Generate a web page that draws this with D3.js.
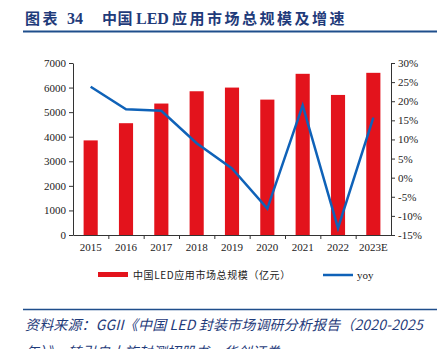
<!DOCTYPE html>
<html>
<head>
<meta charset="utf-8">
<script src="https://cdn.jsdelivr.net/npm/d3@7"></script>
<style>
  body { margin: 0; background: #fff; }
  svg { display: block; }
</style>
</head>
<body>
<script>
// data
var years = ["2015", "2016", "2017", "2018", "2019", "2020", "2021", "2022", "2023E"];
var market = [3850, 4550, 5350, 5850, 6000, 5510, 6560, 5700, 6600];   // 亿元
var yoy = [23.8, 17.9, 17.5, 9.0, 2.4, -8.1, 18.9, -13.2, 15.7];        // %
var leftTicks = [0, 1000, 2000, 3000, 4000, 5000, 6000, 7000];
var rightTicks = [-15, -10, -5, 0, 5, 10, 15, 20, 25, 30];

var width = 443, height = 349;
var plot = {left: 73, right: 391, top: 63, bottom: 235};
var cjk = "'Noto Sans CJK SC', sans-serif";
var serif = "'Liberation Serif', 'Times New Roman', serif";

var svg = d3.select("body").append("svg")
  .attr("width", width).attr("height", height);

// title and rules
var title = svg.append("text")
  .attr("y", 24)
  .attr("font-weight", "bold")
  .attr("font-size", 15)
  .attr("fill", "#1f3b7a");
title.append("tspan").attr("x", 25).attr("font-family", cjk).attr("letter-spacing", 2.5).text("图表");
title.append("tspan").attr("x", 67).attr("font-family", serif).attr("font-size", 16).text("34");
title.append("tspan").attr("x", 102).attr("font-family", cjk).attr("letter-spacing", 0.5).text("中国");
title.append("tspan").attr("x", 136).attr("font-family", serif).attr("font-size", 16).text("LED");
title.append("tspan").attr("x", 172).attr("font-family", cjk).attr("letter-spacing", 2.5).text("应用市场总规模及增速");

svg.append("line")
  .attr("x1", 23).attr("x2", 437).attr("y1", 31.5).attr("y2", 31.5)
  .attr("stroke", "#1f4e8c").attr("stroke-width", 2);

var x = d3.scaleBand().domain(years).range([plot.left, plot.right]).paddingInner(0.6).paddingOuter(0.3);
var xTicks = d3.scaleBand().domain(years).range([plot.left, plot.right]);
var yL = d3.scaleLinear().domain([0, 7000]).range([plot.bottom, plot.top]);
var yR = d3.scaleLinear().domain([-15, 30]).range([plot.bottom, plot.top]);

// bars
svg.append("g").selectAll("rect")
  .data(market)
  .enter()
  .append("rect")
  .attr("x", function(d, i){ return x(years[i]); })
  .attr("y", function(d){ return yL(d); })
  .attr("width", x.bandwidth())
  .attr("height", function(d){ return yL(0) - yL(d); })
  .attr("fill", "#e3131c");

// axes
var gl = svg.append("g").attr("transform", "translate(" + plot.left + ",0)")
  .call(d3.axisLeft(yL).tickValues(leftTicks).tickSize(4).tickPadding(3).tickSizeOuter(0)
    .tickFormat(d3.format("d")));
var gr = svg.append("g").attr("transform", "translate(" + plot.right + ",0)")
  .call(d3.axisRight(yR).tickValues(rightTicks).tickSize(4).tickPadding(3).tickSizeOuter(0)
    .tickFormat(function(d){ return d + "%"; }));
var gx = svg.append("g").attr("transform", "translate(0," + plot.bottom + ")")
  .call(d3.axisBottom(xTicks).tickSize(0).tickPadding(8).tickSizeOuter(0));

// category boundary ticks
svg.append("g").selectAll("line")
  .data(years.slice(1))
  .enter()
  .append("line")
  .attr("x1", function(d){ return xTicks(d) + 0.5; })
  .attr("x2", function(d){ return xTicks(d) + 0.5; })
  .attr("y1", plot.bottom).attr("y2", plot.bottom + 4)
  .attr("stroke", "#333");

[gl, gr, gx].forEach(function(g){
  g.selectAll("text").attr("font-family", serif).attr("font-size", 11).attr("fill", "#222");
  g.selectAll("path, line").attr("stroke", "#333");
});

// yoy line
var line = d3.line()
  .x(function(d, i){ return x(years[i]) + x.bandwidth() / 2; })
  .y(function(d){ return yR(d); });

svg.append("path")
  .datum(yoy)
  .attr("d", line)
  .attr("fill", "none")
  .attr("stroke", "#0f62b8")
  .attr("stroke-width", 2.5);

// legend
var lg = svg.append("g");
lg.append("rect").attr("x", 98).attr("y", 272).attr("width", 30).attr("height", 5).attr("fill", "#e3131c");
lg.append("text").attr("x", 133).attr("y", 279)
  .attr("font-family", cjk).attr("font-size", 10).attr("letter-spacing", 0.6).attr("fill", "#222")
  .text("中国LED应用市场总规模（亿元）");
lg.append("line").attr("x1", 323).attr("x2", 353).attr("y1", 275).attr("y2", 275)
  .attr("stroke", "#0f62b8").attr("stroke-width", 2.5);
lg.append("text").attr("x", 357).attr("y", 279)
  .attr("font-family", serif).attr("font-size", 11).attr("fill", "#222")
  .text("yoy");

// source
svg.append("line")
  .attr("x1", 23).attr("x2", 437).attr("y1", 309.5).attr("y2", 309.5)
  .attr("stroke", "#1f4e8c").attr("stroke-width", 1.5);

var src = svg.append("g")
  .attr("font-family", cjk)
  .attr("font-style", "italic")
  .attr("font-size", 14)
  .attr("letter-spacing", 0.15)
  .attr("fill", "#1f3b7a");
src.append("text").attr("x", 25).attr("y", 330)
  .text("资料来源：GGII《中国 LED 封装市场调研分析报告（2020-2025");
src.append("text").attr("x", 25).attr("y", 357)
  .text("年）》，转引自大族封测招股书，华创证券");
</script>
</body>
</html>
